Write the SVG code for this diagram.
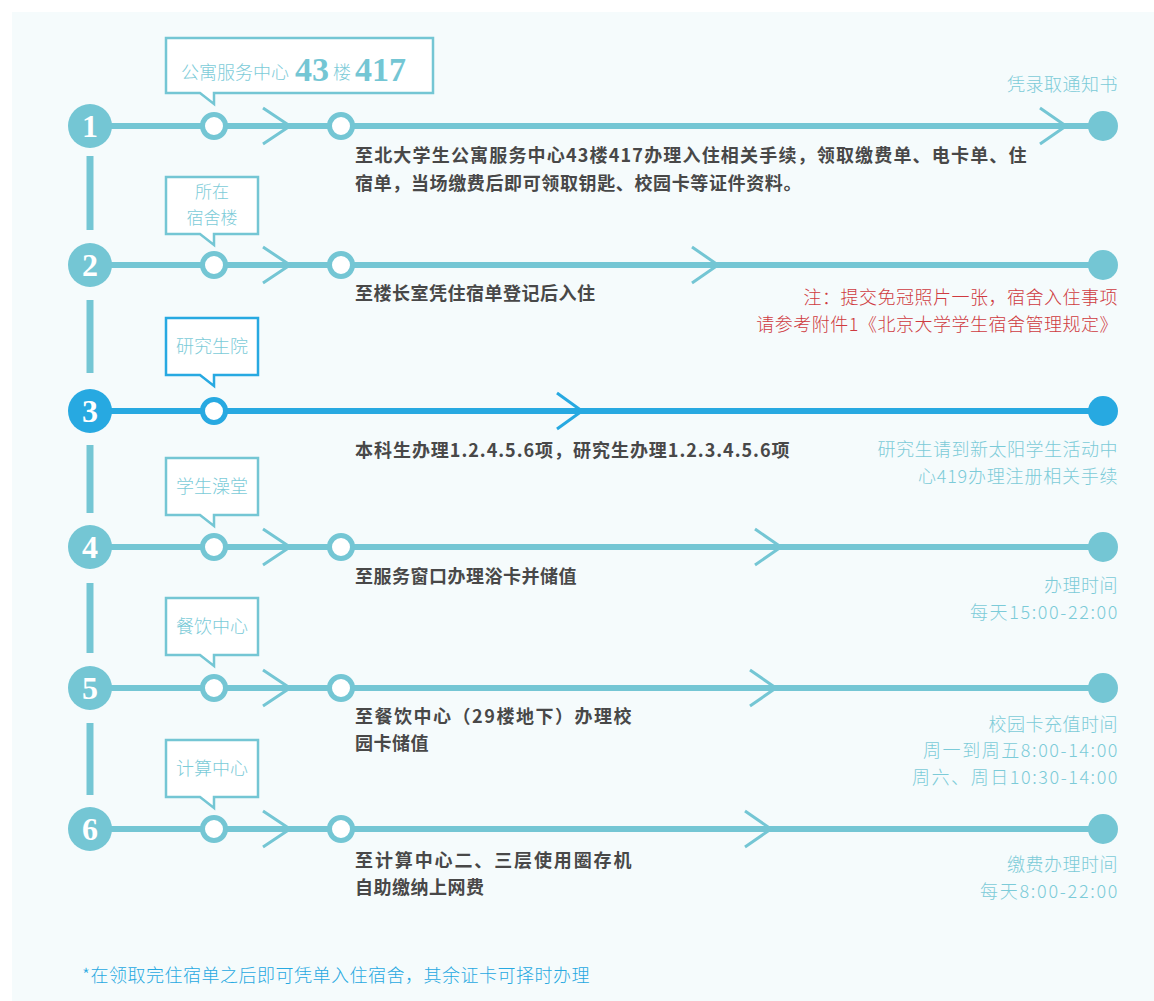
<svg xmlns="http://www.w3.org/2000/svg" width="1154" height="1001" viewBox="0 0 1154 1001">
<style>
.bg{fill:#f5fbfc}
.ln{stroke:#74c6d4;stroke-width:6;fill:none}
.lnb{stroke:#27a9e1;stroke-width:6;fill:none}
.vs{stroke:#74c6d4;stroke-width:7}
.num{fill:#74c6d4}
.numb{fill:#27a9e1}
.hol{fill:#fff;stroke:#74c6d4;stroke-width:5}
.holb{fill:#fff;stroke:#27a9e1;stroke-width:5}
.chev{stroke:#74c6d4;stroke-width:3;fill:none}
.chevb{stroke:#27a9e1;stroke-width:3;fill:none}
.end{fill:#74c6d4}
.endb{fill:#27a9e1}
.box{fill:#fff;stroke:#74c6d4;stroke-width:2.5}
.boxb{fill:#fff;stroke:#27a9e1;stroke-width:2.5}
.nt{font-family:"Liberation Serif",serif;font-weight:bold;font-size:32px;fill:#fff;text-anchor:middle}
.ct{font-family:"Noto Sans CJK SC",sans-serif;font-weight:300;font-size:18px;fill:#7ccbd8;text-anchor:middle}
.ct2{font-family:"Noto Sans CJK SC",sans-serif;font-weight:300;font-size:17px;fill:#7ccbd8;text-anchor:middle}
.cd{font-family:"Liberation Serif",serif;font-weight:bold;font-size:34px;fill:#74c6d4}
.bt{font-family:"Noto Sans CJK SC",sans-serif;font-weight:bold;font-size:18px;fill:#484848;letter-spacing:0.5px}
.rt{font-family:"Noto Sans CJK SC",sans-serif;font-weight:300;font-size:18px;fill:#7ccbd8;text-anchor:end;letter-spacing:0.5px}
.red{fill:#cf3a40}
.note{font-family:"Noto Sans CJK SC",sans-serif;font-weight:300;font-size:18px;fill:#27a9e1;letter-spacing:0.5px}
</style>
<rect class="bg" x="12" y="12" width="1142" height="989"/>

<g id="connectors">
<line class="vs" x1="90" y1="156" x2="90" y2="230"/>
<line class="vs" x1="90" y1="300" x2="90" y2="373"/>
<line class="vs" x1="90" y1="445" x2="90" y2="513"/>
<line class="vs" x1="90" y1="583" x2="90" y2="653"/>
<line class="vs" x1="90" y1="723" x2="90" y2="795"/>
</g>

<g id="row1">
<line class="ln" x1="90" y1="126" x2="1103" y2="126"/>
<polyline class="chev" points="263,108 290,126 263,144"/>
<polyline class="chev" points="1040,108 1066,126 1040,144"/>
<circle class="num" cx="90" cy="126" r="22"/>
<text class="nt" x="90" y="137">1</text>
<circle class="hol" cx="214" cy="126" r="11.5"/>
<circle class="hol" cx="341" cy="126" r="11.5"/>
<circle class="end" cx="1103" cy="126" r="15"/>
<path class="box" d="M166,38 H433 V93 H214 V104 L200,93 H166 Z"/>
<text x="181" y="79" style="font-family:'Noto Sans CJK SC',sans-serif;font-weight:300;font-size:18px;fill:#7ccbd8">公寓服务中心</text>
<text class="cd" x="295" y="81">43</text>
<text x="333" y="79" style="font-family:'Noto Sans CJK SC',sans-serif;font-weight:300;font-size:18px;fill:#7ccbd8">楼</text>
<text class="cd" x="355" y="81">417</text>
<text class="rt" x="1118" y="91">凭录取通知书</text>
<text class="bt" x="355" y="162" textLength="672" lengthAdjust="spacing">至北大学生公寓服务中心43楼417办理入住相关手续，领取缴费单、电卡单、住</text>
<text class="bt" x="355" y="190" textLength="447" lengthAdjust="spacing">宿单，当场缴费后即可领取钥匙、校园卡等证件资料。</text>
</g>

<g id="row2">
<line class="ln" x1="90" y1="265" x2="1103" y2="265"/>
<polyline class="chev" points="263,247 290,265 263,283"/>
<polyline class="chev" points="692,247 718,265 692,283"/>
<circle class="num" cx="90" cy="265" r="22"/>
<text class="nt" x="90" y="276">2</text>
<circle class="hol" cx="214" cy="265" r="11.5"/>
<circle class="hol" cx="341" cy="265" r="11.5"/>
<circle class="end" cx="1103" cy="265" r="15"/>
<path class="box" d="M166,177 H258 V234 H214 V245 L200,234 H166 Z"/>
<text class="ct2" x="212" y="198">所在</text>
<text class="ct2" x="212" y="224">宿舍楼</text>
<text class="bt" x="355" y="300">至楼长室凭住宿单登记后入住</text>
<text class="rt red" x="1118" y="304">注：提交免冠照片一张，宿舍入住事项</text>
<text class="rt red" x="1118" y="331">请参考附件1《北京大学学生宿舍管理规定》</text>
</g>

<g id="row3">
<line class="lnb" x1="90" y1="411" x2="1103" y2="411"/>
<polyline class="chevb" points="557,393 582,411 557,429"/>
<circle class="numb" cx="90" cy="411" r="22"/>
<text class="nt" x="90" y="422">3</text>
<circle class="holb" cx="214" cy="411" r="11.5"/>
<circle class="endb" cx="1103" cy="411" r="15"/>
<path class="boxb" d="M166,318 H258 V375 H214 V386 L200,375 H166 Z"/>
<text class="ct" x="212" y="353">研究生院</text>
<text class="bt" x="355" y="457" textLength="435" lengthAdjust="spacing">本科生办理1.2.4.5.6项，研究生办理1.2.3.4.5.6项</text>
<text class="rt" x="1118" y="456">研究生请到新太阳学生活动中</text>
<text class="rt" x="1118" y="483" textLength="200" lengthAdjust="spacing">心419办理注册相关手续</text>
</g>

<g id="row4">
<line class="ln" x1="90" y1="547" x2="1103" y2="547"/>
<polyline class="chev" points="263,529 290,547 263,565"/>
<polyline class="chev" points="755,529 781,547 755,565"/>
<circle class="num" cx="90" cy="547" r="22"/>
<text class="nt" x="90" y="558">4</text>
<circle class="hol" cx="214" cy="547" r="11.5"/>
<circle class="hol" cx="341" cy="547" r="11.5"/>
<circle class="end" cx="1103" cy="547" r="15"/>
<path class="box" d="M166,458 H258 V515 H214 V526 L200,515 H166 Z"/>
<text class="ct" x="212" y="493">学生澡堂</text>
<text class="bt" x="355" y="583">至服务窗口办理浴卡并储值</text>
<text class="rt" x="1118" y="592">办理时间</text>
<text class="rt" x="1118" y="619" textLength="148" lengthAdjust="spacing">每天15:00-22:00</text>
</g>

<g id="row5">
<line class="ln" x1="90" y1="688" x2="1103" y2="688"/>
<polyline class="chev" points="263,670 290,688 263,706"/>
<polyline class="chev" points="750,670 776,688 750,706"/>
<circle class="num" cx="90" cy="688" r="22"/>
<text class="nt" x="90" y="699">5</text>
<circle class="hol" cx="214" cy="688" r="11.5"/>
<circle class="hol" cx="341" cy="688" r="11.5"/>
<circle class="end" cx="1103" cy="688" r="15"/>
<path class="box" d="M166,598 H258 V655 H214 V666 L200,655 H166 Z"/>
<text class="ct" x="212" y="633">餐饮中心</text>
<text class="bt" x="355" y="723" textLength="277" lengthAdjust="spacing">至餐饮中心（29楼地下）办理校</text>
<text class="bt" x="355" y="750">园卡储值</text>
<text class="rt" x="1118" y="731">校园卡充值时间</text>
<text class="rt" x="1118" y="757" textLength="195" lengthAdjust="spacing">周一到周五8:00-14:00</text>
<text class="rt" x="1118" y="784" textLength="206" lengthAdjust="spacing">周六、周日10:30-14:00</text>
</g>

<g id="row6">
<line class="ln" x1="90" y1="829" x2="1103" y2="829"/>
<polyline class="chev" points="263,811 290,829 263,847"/>
<polyline class="chev" points="745,811 771,829 745,847"/>
<circle class="num" cx="90" cy="829" r="22"/>
<text class="nt" x="90" y="840">6</text>
<circle class="hol" cx="214" cy="829" r="11.5"/>
<circle class="hol" cx="341" cy="829" r="11.5"/>
<circle class="end" cx="1103" cy="829" r="15"/>
<path class="box" d="M166,740 H258 V797 H214 V808 L200,797 H166 Z"/>
<text class="ct" x="212" y="775">计算中心</text>
<text class="bt" x="355" y="867" textLength="277" lengthAdjust="spacing">至计算中心二、三层使用圈存机</text>
<text class="bt" x="355" y="894">自助缴纳上网费</text>
<text class="rt" x="1118" y="871">缴费办理时间</text>
<text class="rt" x="1118" y="898" textLength="138" lengthAdjust="spacing">每天8:00-22:00</text>
</g>

<g id="footnote">
<text class="note" x="82" y="982">*在领取完住宿单之后即可凭单入住宿舍，其余证卡可择时办理</text>
</g>
</svg>
